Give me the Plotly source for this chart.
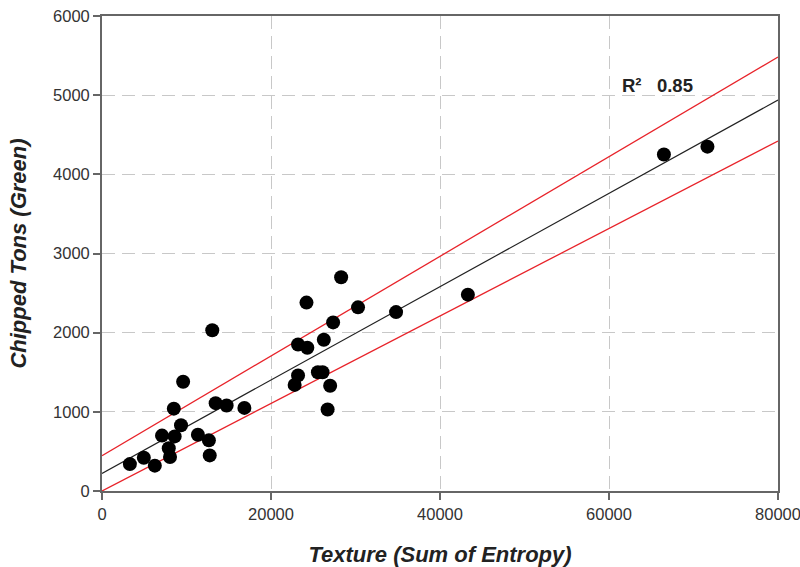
import plotly.graph_objects as go

# Data
texture = [3300, 4950, 6250, 7100, 7900, 8050, 8600, 8500, 9350, 9600,
           11350, 12650, 12750, 13050, 13450, 14750, 16850, 22800, 23200, 23200,
           24300, 24200, 25550, 26100, 26250, 26700, 27000, 27350, 28300, 30300,
           34800, 43300, 66500, 71650]
tons = [340, 420, 320, 700, 540, 430, 690, 1040, 830, 1380,
        710, 640, 450, 2030, 1110, 1080, 1050, 1340, 1460, 1850,
        1810, 2380, 1500, 1500, 1910, 1030, 1330, 2130, 2700, 2320,
        2260, 2480, 4250, 4350]

fit_x = [0, 80000]
fit_y = [223, 4939]
upper_y = [446, 5482]
lower_y = [0, 4421]

r2_label = "R²   0.85"
r2_pos = (61300, 5120)

x_ticks = [0, 20000, 40000, 60000, 80000]
y_ticks = [0, 1000, 2000, 3000, 4000, 5000, 6000]

FONT = "Liberation Sans, Arial"

fig = go.Figure()
fig.add_trace(go.Scatter(x=fit_x, y=upper_y, mode="lines",
                         line=dict(color="#e8232a", width=1.3), hoverinfo="skip"))
fig.add_trace(go.Scatter(x=fit_x, y=lower_y, mode="lines",
                         line=dict(color="#e8232a", width=1.3), hoverinfo="skip"))
fig.add_trace(go.Scatter(x=fit_x, y=fit_y, mode="lines",
                         line=dict(color="#222222", width=1.2), hoverinfo="skip"))
fig.add_trace(go.Scatter(x=texture, y=tons, mode="markers",
                         marker=dict(color="black", size=14, line=dict(width=0))))

fig.add_annotation(x=r2_pos[0], y=r2_pos[1], text=r2_label, showarrow=False,
                   xanchor="left", yanchor="middle",
                   font=dict(family=FONT, size=18.5, color="#222222", weight="bold"))

axis_common = dict(
    automargin=False,
    ticklabeloverflow="allow",
    showline=True, linecolor="#666666", linewidth=1.8, mirror=True,
    ticks="outside", ticklen=7, tickcolor="#666666", tickwidth=1.5,
    showgrid=True, gridcolor="#c8c8c8", griddash="13px,7px", gridwidth=1,
    zeroline=False,
    tickfont=dict(family=FONT, size=16.5, color="#333333"),
)

fig.update_layout(
    width=800, height=567,
    margin=dict(l=102, r=22, t=16, b=76),
    paper_bgcolor="white", plot_bgcolor="white",
    showlegend=False,
    xaxis=dict(range=[0, 80000], tickvals=x_ticks, ticktext=[str(v) for v in x_ticks],
               title=dict(text="Texture (Sum of Entropy)", standoff=25,
                          font=dict(family=FONT, size=22, color="#222222",
                                    weight="bold", style="italic")),
               **axis_common),
    yaxis=dict(range=[0, 6000], tickvals=y_ticks, ticktext=[str(v) for v in y_ticks],
               title=dict(text="Chipped Tons (Green)", standoff=20,
                          font=dict(family=FONT, size=22, color="#222222",
                                    weight="bold", style="italic")),
               **axis_common),
)

fig.write_html("out.html")
